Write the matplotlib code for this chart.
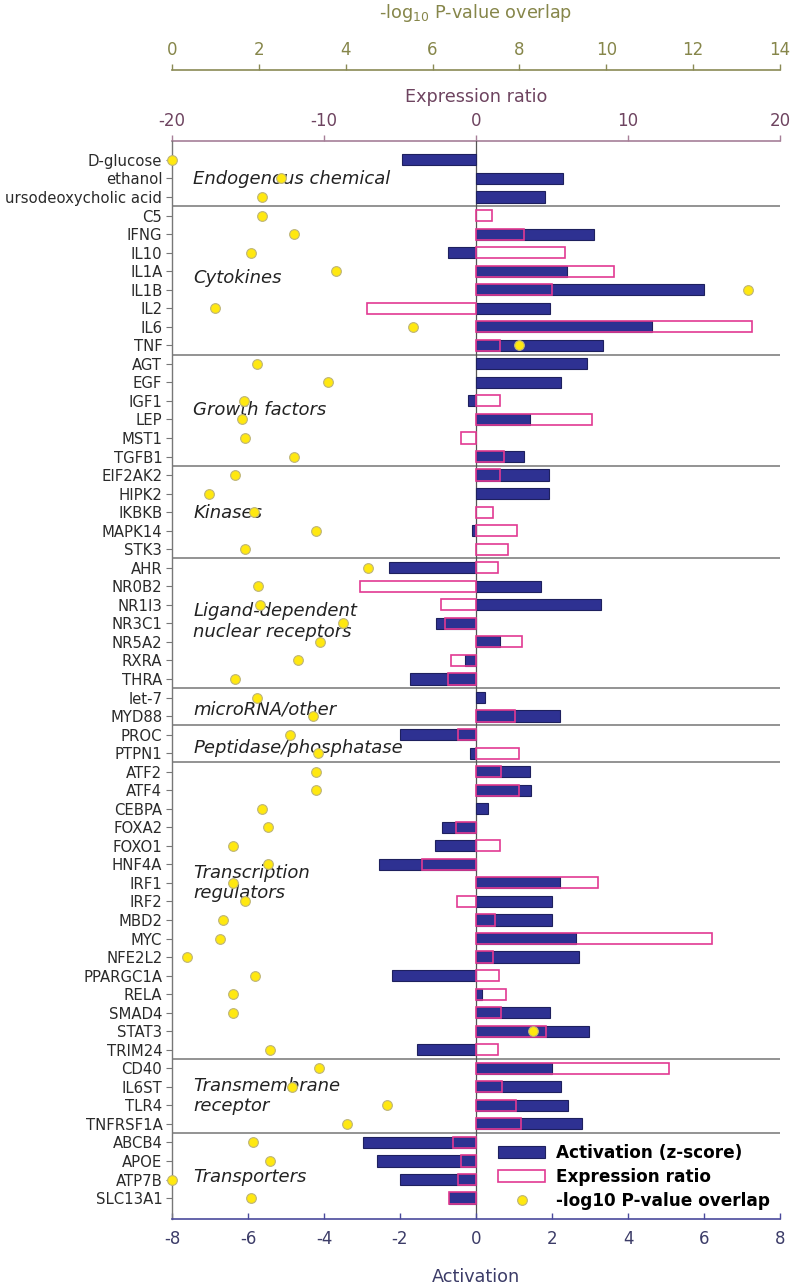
import matplotlib
matplotlib.use('Agg')
import matplotlib.pyplot as plt
import matplotlib.transforms as mtransforms
import numpy as np
from matplotlib.patches import Patch
from matplotlib.lines import Line2D

plt.rcParams['font.family'] = ['DejaVu Sans']

# ---------------- data ----------------
labels = ["D-glucose", "ethanol", "ursodeoxycholic acid",
          "C5", "IFNG", "IL10", "IL1A", "IL1B", "IL2", "IL6", "TNF",
          "AGT", "EGF", "IGF1", "LEP", "MST1", "TGFB1",
          "EIF2AK2", "HIPK2", "IKBKB", "MAPK14", "STK3",
          "AHR", "NR0B2", "NR1I3", "NR3C1", "NR5A2", "RXRA", "THRA",
          "let-7", "MYD88",
          "PROC", "PTPN1",
          "ATF2", "ATF4", "CEBPA", "FOXA2", "FOXO1", "HNF4A", "IRF1", "IRF2",
          "MBD2", "MYC", "NFE2L2", "PPARGC1A", "RELA", "SMAD4", "STAT3", "TRIM24",
          "CD40", "IL6ST", "TLR4", "TNFRSF1A",
          "ABCB4", "APOE", "ATP7B", "SLC13A1"]

activation = [-1.96, 2.28, 1.81,
              0.0, 3.10, -0.73, 2.40, 6.01, 1.95, 4.63, 3.35,
              2.91, 2.24, -0.20, 1.41, 0.0, 1.27,
              1.91, 1.91, 0.0, -0.10, 0.0,
              -2.29, 1.71, 3.28, -1.04, 0.64, -0.29, -1.73,
              0.24, 2.21,
              -2.00, -0.16,
              1.41, 1.44, 0.32, -0.89, -1.07, -2.56, 2.21, 2.00,
              1.99, 2.64, 2.71, -2.20, 0.15, 1.95, 2.97, -1.56,
              2.01, 2.24, 2.43, 2.80,
              -2.97, -2.61, -2.01, -0.72]

expression = [0.0, 0.0, 0.0,
              1.03, 3.17, 5.87, 9.10, 5.03, -7.20, 18.17, 1.57,
              0.0, 0.0, 1.57, 7.63, -1.00, 1.83,
              1.60, 0.0, 1.10, 2.73, 2.10,
              1.47, -7.60, -2.30, -2.07, 3.00, -1.63, -1.83,
              0.0, 2.57,
              -1.17, 2.83,
              1.67, 2.83, 0.0, -1.33, 1.60, -3.53, 8.00, -1.27,
              1.23, 15.53, 1.10, 1.53, 1.97, 1.67, 4.60, 1.43,
              12.70, 1.73, 2.63, 2.93,
              -1.50, -1.00, -1.17, -1.80]

pvalue = [0.00, 2.52, 2.08,
          2.08, 2.82, 1.81, 3.77, 13.26, 0.99, 5.55, 7.98,
          1.95, 3.59, 1.66, 1.61, 1.69, 2.80,
          1.46, 0.86, 1.88, 3.32, 1.69,
          4.51, 1.99, 2.03, 3.93, 3.41, 2.90, 1.46,
          1.95, 3.25,
          2.71, 3.36,
          3.31, 3.31, 2.07, 2.22, 1.40, 2.20, 1.40, 1.69,
          1.18, 1.11, 0.34, 1.90, 1.41, 1.40, 8.31, 2.25,
          3.39, 2.76, 4.95, 4.02,
          1.86, 2.25, 0.00, 1.81]

group_names = ["Endogenous chemical", "Cytokines", "Growth factors", "Kinases",
               "Ligand-dependent\nnuclear receptors", "microRNA/other",
               "Peptidase/phosphatase", "Transcription\nregulators",
               "Transmembrane\nreceptor", "Transporters"]
group_sizes = [3, 8, 6, 5, 7, 2, 2, 16, 4, 4]

act_ticks = [-8, -6, -4, -2, 0, 2, 4, 6, 8]
expr_ticks = [-20, -10, 0, 10, 20]
p_ticks = [0, 2, 4, 6, 8, 10, 12, 14]

# layout only: vertical row positions of the group captions
group_label_rows = [1.05, 6.36, 13.5, 19.06, 24.9, 29.63, 31.7, 39.0, 50.5, 54.89]

# ---------------- styles ----------------
NAVY = '#2E3192'
NAVY_EDGE = '#1e205e'
PINK = '#E23A92'
YELLOW = '#FFE810'
OLIVE = '#8a8a55'
OLIVE_TXT = '#86864a'
MAUVE = '#a67f98'
MAUVE_TXT = '#6e4460'
BLUE_AX = '#4a4a9c'
BLUE_TXT = '#3c3c68'

W, H = 793, 1287
fig = plt.figure(figsize=(W / 100, H / 100), dpi=100)
fig.patch.set_facecolor('white')

left, right, top, bottom = 172, 780, 141, 1219
ax = fig.add_axes([left / W, 1 - bottom / H, (right - left) / W, (bottom - top) / H])
ax_fill = ax.twiny()
ax_out = ax.twiny()
ax_p = ax.twiny()

ax_fill.set_zorder(1)
ax.set_zorder(2)
ax_out.set_zorder(3)
ax_p.set_zorder(4)
ax.patch.set_visible(False)

y = np.arange(len(labels))
act = np.array(activation)
expr = np.array(expression)
pv = np.array(pvalue)
bh = 0.6

m_e = expr != 0
m_a = act != 0
ax_fill.barh(y[m_e], expr[m_e], height=bh, color='white', edgecolor='none')
ax.barh(y[m_a], act[m_a], height=bh, color=NAVY, edgecolor=NAVY_EDGE, linewidth=0.8)
ax_out.barh(y[m_e], expr[m_e], height=bh, fill=False, edgecolor=PINK, linewidth=1.2)
ax_p.plot(pv, y, 'o', markersize=7, markerfacecolor=YELLOW, markeredgecolor='#bdb47a',
          markeredgewidth=0.8, clip_on=False, zorder=5)

ax.set_xlim(-8, 8)
ax_fill.set_xlim(-20, 20)
ax_out.set_xlim(-20, 20)
ax_p.set_xlim(0, 14)

# zero line and group separators
ax.axvline(0, color='#555555', linewidth=0.9, zorder=0.5)
bounds = np.cumsum(group_sizes)[:-1] - 0.5
for b in bounds:
    ax.axhline(b, color='#8a8a8a', linewidth=1.3, zorder=0.4)

trans = mtransforms.blended_transform_factory(ax.transAxes, ax.transData)
for name, row in zip(group_names, group_label_rows):
    ax.text(0.035, row, name, transform=trans, fontsize=13, style='italic',
            color='#222222', ha='left', va='center', linespacing=1.15, zorder=0.6)

# main axes: y labels + bottom activation axis
ax.set_yticks(y)
ax.set_yticklabels(labels, fontsize=10.7, color='#2a2a2a')
ax.tick_params(axis='y', direction='out', length=4, width=0.8, color='#777777', pad=3)
ax.set_xticks(act_ticks)
ax.set_xticklabels([str(t) for t in act_ticks], fontsize=12, color=BLUE_TXT)
ax.tick_params(axis='x', direction='in', length=4, width=1, color=BLUE_AX, pad=8)
ax.spines['top'].set_visible(False)
ax.spines['right'].set_visible(False)
ax.spines['left'].set_color('#777777')
ax.spines['left'].set_linewidth(1.0)
ax.spines['bottom'].set_color(BLUE_AX)
ax.spines['bottom'].set_linewidth(1.2)

# expression ratio axis (top)
ax_fill.set_xticks(expr_ticks)
ax_fill.set_xticklabels([str(t) for t in expr_ticks], fontsize=12, color=MAUVE_TXT)
ax_fill.tick_params(axis='x', direction='out', length=4, width=1, color=MAUVE, pad=4)
for s in ['bottom', 'left', 'right']:
    ax_fill.spines[s].set_visible(False)
ax_fill.spines['top'].set_color(MAUVE)
ax_fill.spines['top'].set_linewidth(1.2)

ax_out.axis('off')

# p-value axis (outer top)
ax_p.spines['top'].set_position(('axes', 1 + (top - 70) / (bottom - top)))
for s in ['bottom', 'left', 'right']:
    ax_p.spines[s].set_visible(False)
ax_p.spines['top'].set_color(OLIVE)
ax_p.spines['top'].set_linewidth(1.2)
ax_p.set_xticks(p_ticks)
ax_p.set_xticklabels([str(t) for t in p_ticks], fontsize=12, color=OLIVE_TXT)
ax_p.tick_params(axis='x', direction='out', length=4, width=1, color=OLIVE, pad=4)

ax.set_ylim(len(labels) - 1 + 1.13, -1.02)

xc = ((left + right) / 2) / W
fig.text(xc, 1 - 13 / H, r'-log$_{10}$ P-value overlap', fontsize=12.7, color=OLIVE_TXT,
         ha='center', va='center')
fig.text(xc, 1 - 97 / H, 'Expression ratio', fontsize=12.7, color=MAUVE_TXT,
         ha='center', va='center')
fig.text(xc, 1 - 1277 / H, 'Activation', fontsize=12.7, color=BLUE_TXT,
         ha='center', va='center')

handles = [Patch(facecolor=NAVY, edgecolor=NAVY_EDGE, linewidth=0.8),
           Patch(facecolor='white', edgecolor=PINK, linewidth=1.2),
           Line2D([], [], linestyle='none', marker='o', markersize=7,
                  markerfacecolor=YELLOW, markeredgecolor='#bdb47a', markeredgewidth=0.8)]
leg_labels = ['Activation (z-score)', 'Expression ratio', '-log10 P-value overlap']
fig.legend(handles, leg_labels, loc='center left',
           bbox_to_anchor=(498 / W, 1 - 1177 / H), frameon=False,
           prop=dict(weight='bold', size=12.2), handlelength=2.8,
           handletextpad=0.65, labelspacing=0.34, borderpad=0, borderaxespad=0)

fig.savefig('out.png', dpi=100, facecolor='white')
